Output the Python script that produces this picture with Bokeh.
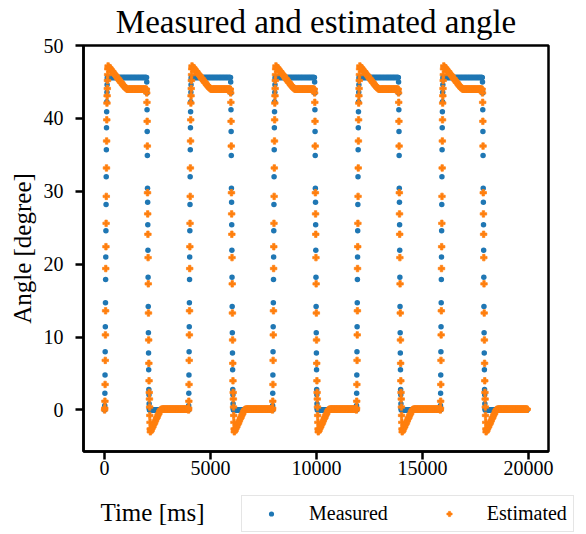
import numpy as np
from bokeh.plotting import figure
from bokeh.layouts import column
from bokeh.models import ColumnDataSource, Range1d, Legend, LegendItem, Label, FixedTicker
from bokeh.embed import file_html
from bokeh.resources import INLINE

# ---------------- data ----------------
cycle_start_ms = [0, 3960, 7920, 11880, 15840]
end_ms = 19950
hold_step_ms = 20

measured_rise = [0.0, 0.6, 2.3, 4.8, 8.0, 11.4, 14.7, 17.9, 21.0, 24.6, 28.2,
                 32.0, 35.7, 38.7, 40.9, 42.3, 43.6, 44.6, 45.3, 45.6]
measured_rise_step_ms = 7
measured_high = 45.6
measured_fall_ms = 1990
measured_fall = [45.0, 43.5, 41.2, 38.2, 34.9, 30.4, 28.5, 25.4, 21.9, 18.2,
                 14.2, 10.6, 7.8, 5.5, 2.8, 2.1, 0.85, 0.2]
measured_fall_step_ms = 7
measured_low = 0.0

estimated_rise = [0.0, 0.25, 1.2, 3.5, 6.8, 10.3, 13.6, 19.4, 22.4, 25.6, 29.3,
                  33.2, 36.9, 39.8, 42.1, 43.1, 44.1, 45.2, 46.0, 46.8]
estimated_rise_step_ms = 8
estimated_decay_ms = 165
estimated_decay = [47.2, 47.0, 46.9, 46.7, 46.5, 46.4, 46.2, 46.0, 45.9, 45.7,
                   45.5, 45.4, 45.2, 45.0, 44.9, 44.7, 44.5, 44.4, 44.2, 44.1, 44.0]
estimated_decay_step_ms = 45
estimated_high = 44.0
estimated_fall_ms = 1990
estimated_fall = [43.5, 42.2, 39.6, 36.2, 29.8, 26.9, 24.1, 20.9, 17.3, 13.3,
                  9.6, 6.4, 4.0, 2.4, 1.5, 0.4, -0.75, -1.7, -2.6, -3.0]
estimated_fall_step_ms = 9
estimated_recover_ms = 2200
estimated_recover = [-2.8, -2.5, -2.3, -2.0, -1.8, -1.5, -1.2, -1.0, -0.7,
                     -0.5, -0.2, 0.0, 0.1]
estimated_recover_step_ms = 40
estimated_low = 0.1

x_ticks = [0, 5000, 10000, 15000, 20000]
y_ticks = [0, 10, 20, 30, 40, 50]
series_labels = ["Measured", "Estimated"]
series_colors = ["#1f77b4", "#ff7f0e"]


def ramp(t0, values, step):
    return list(t0 + step * np.arange(len(values))), list(values)


def hold(t0, t1, v, step=hold_step_ms):
    ts = list(np.arange(t0, t1, step))
    return ts, [v] * len(ts)


def build_measured():
    T, V = [], []
    for i, s in enumerate(cycle_start_ms):
        nxt = cycle_start_ms[i + 1] if i + 1 < len(cycle_start_ms) else end_ms
        segs = [
            ramp(s, measured_rise, measured_rise_step_ms),
            hold(s + len(measured_rise) * measured_rise_step_ms, s + measured_fall_ms, measured_high),
            ramp(s + measured_fall_ms, measured_fall, measured_fall_step_ms),
            hold(s + measured_fall_ms + len(measured_fall) * measured_fall_step_ms, nxt, measured_low),
        ]
        for t, v in segs:
            T += t
            V += v
    return T, V


def build_estimated():
    T, V = [], []
    for i, s in enumerate(cycle_start_ms):
        nxt = cycle_start_ms[i + 1] if i + 1 < len(cycle_start_ms) else end_ms
        decay_end = s + estimated_decay_ms + len(estimated_decay) * estimated_decay_step_ms
        rec_end = s + estimated_recover_ms + len(estimated_recover) * estimated_recover_step_ms
        segs = [
            ramp(s, estimated_rise, estimated_rise_step_ms),
            ramp(s + estimated_decay_ms, estimated_decay, estimated_decay_step_ms),
            hold(decay_end, s + estimated_fall_ms, estimated_high),
            ramp(s + estimated_fall_ms, estimated_fall, estimated_fall_step_ms),
            ramp(s + estimated_recover_ms, estimated_recover, estimated_recover_step_ms),
            hold(rec_end, nxt, estimated_low),
        ]
        for t, v in segs:
            T += t
            V += v
    return T, V


mt, mv = build_measured()
et, ev = build_estimated()
src_m = ColumnDataSource(dict(t=mt, v=mv))
src_e = ColumnDataSource(dict(t=et, v=ev))

FONT = "Liberation Serif"
W = 578
H1, H2 = 490, 44
L, R, T_, B = 83, 30, 45, 39

p = figure(width=W, height=H1, output_backend="svg", toolbar_location=None,
           x_range=Range1d(-995, 20945), y_range=Range1d(-5.7, 50),
           min_border_left=L, min_border_right=R, min_border_top=T_, min_border_bottom=B)
p.frame_align = False
p.grid.visible = False
p.background_fill_color = "white"
p.border_fill_color = "white"
p.outline_line_color = "black"
p.outline_line_width = 2.5
p.outline_line_alpha = 1.0

p.title.text = "Measured and estimated angle"
p.title.align = "center"
p.title.vertical_align = "top"
p.title.text_font = FONT
p.title.text_font_size = "33px"
p.title.text_font_style = "normal"
p.title.text_color = "black"
p.title.standoff = 7

for ax in (p.xaxis[0], p.yaxis[0]):
    ax.axis_line_width = 2.5
    ax.axis_line_color = "black"
    ax.major_tick_line_width = 2.5
    ax.major_tick_line_color = "black"
    ax.major_tick_out = 8
    ax.major_tick_in = 0
    ax.minor_tick_line_color = None
    ax.major_label_text_font = FONT
    ax.major_label_text_font_size = "20px"
    ax.major_label_text_color = "black"

p.xaxis[0].ticker = FixedTicker(ticks=x_ticks)
p.yaxis[0].ticker = FixedTicker(ticks=y_ticks)
p.xaxis[0].major_label_standoff = 1
p.yaxis[0].major_label_standoff = 12
p.yaxis[0].axis_label = "Angle [degree]"
p.yaxis[0].axis_label_text_font = FONT
p.yaxis[0].axis_label_text_font_size = "25px"
p.yaxis[0].axis_label_text_font_style = "normal"
p.yaxis[0].axis_label_text_color = "black"
p.yaxis[0].axis_label_standoff = 5

p.scatter("t", "v", source=src_m, marker="circle", size=5.5,
          fill_color=series_colors[0], line_color=None)
p.scatter("t", "v", source=src_e, marker="plus", size=6.5,
          fill_color=series_colors[1], line_color=series_colors[1], line_width=0.7)

# ---- bottom strip: x label and legend ----
p2 = figure(width=W, height=H2, output_backend="svg", toolbar_location=None,
            x_range=Range1d(0, 1), y_range=Range1d(0, 1),
            x_axis_type=None, y_axis_type=None,
            min_border_left=0, min_border_right=0, min_border_top=0, min_border_bottom=0)
p2.frame_align = False
p2.grid.visible = False
p2.outline_line_color = None
p2.background_fill_color = "white"
p2.border_fill_color = "white"

# legend swatches (placed outside the visible range of this strip)
d_m = p2.scatter(x=[-5], y=[-5], marker="circle", size=5.5,
                 fill_color=series_colors[0], line_color=None)
d_e = p2.scatter(x=[-5], y=[-5], marker="plus", size=6.5,
                 fill_color=series_colors[1], line_color=series_colors[1], line_width=0.7)

xlabel = Label(x=100, y=22, x_units="screen", y_units="screen",
               text="Time [ms]", text_align="left", text_baseline="middle",
               text_font=FONT, text_font_size="25px", text_color="black")
p2.add_layout(xlabel)

legend = Legend(items=[LegendItem(label=series_labels[0], renderers=[d_m]),
                       LegendItem(label=series_labels[1], renderers=[d_e])],
                orientation="horizontal", location=(241, 2),
                label_text_font=FONT, label_text_font_size="20px",
                label_text_color="black",
                glyph_width=46, glyph_height=13, label_standoff=15, spacing=38,
                padding=6, margin=0,
                border_line_color="#cccccc", border_line_width=1,
                background_fill_color="white", background_fill_alpha=1.0)
p2.add_layout(legend)

layout = column(p, p2, spacing=0)
open("out.html", "w").write(file_html(layout, INLINE))
